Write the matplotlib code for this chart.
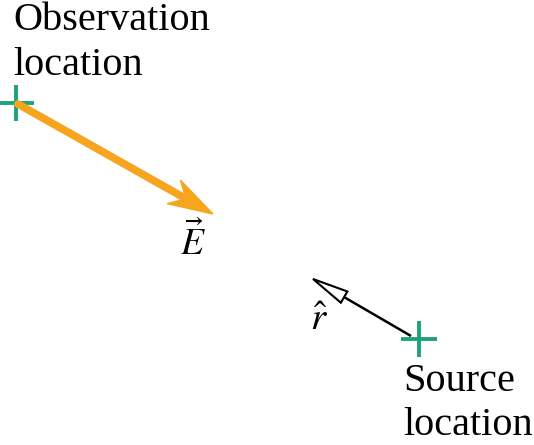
import numpy as np
import matplotlib.pyplot as plt
from matplotlib.patches import Polygon

plt.rcParams['mathtext.fontset'] = 'stix'

# positions in image pixels (x right, y down)
obs_pt = [16, 103]
src_pt = [419, 339]
e_start = [18, 104]
e_tip = [213, 214]
r_start = [411, 336]
r_tip = [313, 279]

obs_lines = ["Observation", "location"]
obs_base = [30, 75]
src_lines = ["Source", "location"]
src_base = [391, 435]

green = '#1fa27a'
orange = '#f7a51f'


def head_poly(start, tip, length, half, notch):
    s = np.array(start, float)
    t = np.array(tip, float)
    u = (t - s) / np.linalg.norm(t - s)
    p = np.array([-u[1], u[0]])
    b = t - u * length
    return [t, b + p * half, t - u * notch, b - p * half]


fig = plt.figure(figsize=(5.34, 4.45), dpi=100)
ax = fig.add_axes([0, 0, 1, 1])
ax.set_xlim(0, 534)
ax.set_ylim(445, 0)
ax.axis('off')

# crosses
for x, y in [obs_pt, src_pt]:
    ax.plot([x - 18, x + 18], [y, y], color=green, lw=2.8, solid_capstyle='butt')
    ax.plot([x, x], [y - 18, y + 18], color=green, lw=2.8, solid_capstyle='butt')

# E field arrow
hp = head_poly(e_start, e_tip, 45, 13.5, 31)
ax.plot([e_start[0], hp[2][0]], [e_start[1], hp[2][1]], color=orange, lw=5.6,
        solid_capstyle='round')
ax.add_patch(Polygon(hp, closed=True, facecolor=orange, edgecolor=orange, lw=1))

# r-hat arrow
hp = head_poly(r_start, r_tip, 36, 6.5, 36)
ax.plot([r_start[0], hp[2][0]], [r_start[1], hp[2][1]], color='black', lw=1.8,
        solid_capstyle='butt')
ax.add_patch(Polygon([hp[0], hp[1], hp[3]], closed=True, facecolor='white',
                     edgecolor='black', lw=1.5, joinstyle='miter'))

# labels
for txt, yb in zip(obs_lines, obs_base):
    ax.text(13, yb, txt, fontsize=29, family='Liberation Serif', va='baseline', ha='left')
for txt, yb in zip(src_lines, src_base):
    ax.text(403, yb, txt, fontsize=29, family='Liberation Serif', va='baseline', ha='left')

ax.text(193, 255, r'$\vec{E}$', fontsize=27, va='baseline', ha='center')
ax.text(319, 330, r'$\hat{r}$', fontsize=28, va='baseline', ha='center')

fig.savefig('out.png', dpi=100)
